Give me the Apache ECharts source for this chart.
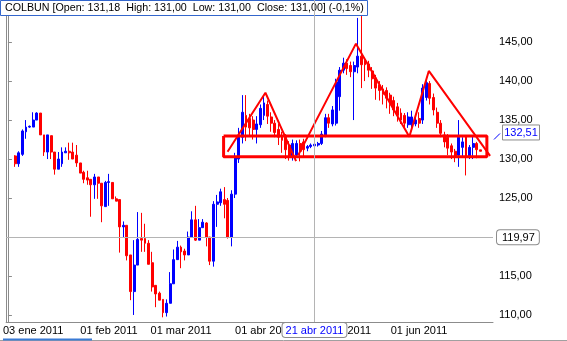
<!DOCTYPE html>
<html><head><meta charset="utf-8">
<script src="https://cdn.jsdelivr.net/npm/echarts@6/dist/echarts.min.js"></script>
<style>html,body{margin:0;padding:0;background:#fff}#c{width:567px;height:341px}</style>
</head><body><div id="c"></div>
<script>
const dates = ['2010-12-23','2010-12-24','2010-12-27','2010-12-28','2010-12-29','2010-12-30','2010-12-31',
'2011-01-03','2011-01-04','2011-01-05','2011-01-06','2011-01-07','2011-01-10','2011-01-11','2011-01-12','2011-01-13','2011-01-14',
'2011-01-17','2011-01-18','2011-01-19','2011-01-20','2011-01-21','2011-01-24','2011-01-25','2011-01-26','2011-01-27','2011-01-28','2011-01-31',
'2011-02-01','2011-02-02','2011-02-03','2011-02-04','2011-02-07','2011-02-08','2011-02-09','2011-02-10','2011-02-11','2011-02-14','2011-02-15',
'2011-02-16','2011-02-17','2011-02-18','2011-02-21','2011-02-22','2011-02-23','2011-02-24','2011-02-25','2011-02-28',
'2011-03-01','2011-03-02','2011-03-03','2011-03-04','2011-03-07','2011-03-08','2011-03-09','2011-03-10','2011-03-11','2011-03-14','2011-03-15',
'2011-03-16','2011-03-17','2011-03-18','2011-03-21','2011-03-22','2011-03-23','2011-03-24','2011-03-25','2011-03-28','2011-03-29','2011-03-30','2011-03-31',
'2011-04-01','2011-04-04','2011-04-05','2011-04-06','2011-04-07','2011-04-08','2011-04-11','2011-04-12','2011-04-13','2011-04-14','2011-04-15',
'2011-04-18','2011-04-19','2011-04-20','2011-04-21','2011-04-22','2011-04-25','2011-04-26','2011-04-27','2011-04-28','2011-04-29',
'2011-05-02','2011-05-03','2011-05-04','2011-05-05','2011-05-06','2011-05-09','2011-05-10','2011-05-11','2011-05-12','2011-05-13',
'2011-05-16','2011-05-17','2011-05-18','2011-05-19','2011-05-20','2011-05-23','2011-05-24','2011-05-25','2011-05-26','2011-05-27','2011-05-30','2011-05-31',
'2011-06-01','2011-06-02','2011-06-03','2011-06-06','2011-06-07','2011-06-08','2011-06-09','2011-06-10','2011-06-13','2011-06-14','2011-06-15',
'2011-06-16','2011-06-17','2011-06-20','2011-06-21','2011-06-22','2011-06-23','2011-06-24','2011-06-27','2011-06-28','2011-06-29'];

const opens = [null,null,
130.4,129.4,130.6,133.5,134.1,134.1,135.0,135.9,133.1,130.9,133.0,130.9,128.7,129.4,130.8,131.0,130.9,130.5,129.5,128.3,
127.6,127.4,126.7,127.7,126.9,123.9,127.0,127.0,124.9,124.8,121.3,121.5,117.7,113.0,116.4,119.8,119.8,119.2,116.7,113.8,
112.8,112.0,110.3,111.5,114.0,117.1,118.7,118.2,117.7,120.0,122.2,119.6,121.2,121.8,120.0,116.9,
124.2,124.4,124.8,124.7,120.0,125.5,130.0,132.8,135.6,135.2,135.0,133.8,134.4,135.6,137.0,135.4,134.6,133.8,133.0,132.8,
131.8,130.2,130.5,132.0,132.2,131.4,131.6,131.7,
131.8,132.0,133.0,135.3,134.5,134.6,138.0,141.4,142.3,142.0,141.2,
141.8,143.2,142.6,142.2,141.3,140.4,139.5,139.0,138.8,138.2,137.5,136.7,135.9,135.6,134.4,134.4,134.5,135.2,135.0,137.9,
139.7,137.9,136.0,134.6,133.1,132.8,131.7,131.0,130.5,131.5,132.9,130.3,131.5,132.0,131.18,
null,null,null];

const closes = [null,null,
129.4,130.8,133.6,134.1,134.2,135.0,135.9,133.1,130.9,133.1,130.9,128.7,130.0,130.9,131.0,130.8,130.0,129.5,128.2,127.4,
127.3,126.7,127.7,126.9,124.0,127.0,127.1,124.9,124.6,121.3,121.5,117.6,113.0,116.4,119.7,119.6,119.2,116.5,113.6,112.7,
111.9,110.3,111.5,114.0,117.1,118.7,118.1,117.7,120.0,122.2,119.6,121.2,121.9,120.0,116.9,124.2,
124.5,125.8,124.2,120.0,125.5,130.3,133.0,136.0,134.1,134.0,133.8,134.5,136.5,137.2,135.5,134.6,133.4,132.8,132.4,131.2,
130.2,132.0,132.0,131.0,131.2,131.6,131.8,131.9,
132.0,133.2,135.3,134.6,136.3,139.9,141.4,142.3,141.6,141.2,142.0,
143.2,142.1,142.1,141.4,140.3,139.1,138.8,138.3,137.8,137.0,136.3,135.6,135.0,134.6,135.4,135.4,135.0,134.6,139.1,139.8,
137.8,136.3,134.6,133.3,132.2,131.4,130.9,130.4,132.8,132.2,130.3,131.5,132.0,131.2,131.0,
null,null,null];

const lows = [null,null,
129.0,129.0,130.4,132.6,134.0,134.1,135.0,133.1,130.4,130.0,130.0,128.0,128.7,129.0,130.8,129.9,130.0,129.0,128.2,126.9,
126.7,122.6,124.9,124.9,121.9,123.9,124.0,124.9,124.6,118.0,120.0,117.0,111.9,110.0,116.4,118.1,118.1,116.5,113.0,111.0,
111.9,109.7,109.8,111.5,114.0,117.1,116.0,117.0,117.7,120.0,119.5,119.6,121.2,118.8,116.4,116.2,
121.3,124.0,122.4,119.8,118.8,125.0,129.5,132.0,132.3,133.0,132.5,132.0,134.0,135.0,134.5,133.5,132.8,131.8,130.8,130.0,
129.8,129.8,130.3,129.7,130.2,131.0,131.4,131.5,
131.6,131.8,132.8,134.0,134.2,134.3,136.2,141.0,140.8,140.5,135.0,
141.0,139.1,140.0,140.5,139.0,137.6,137.5,137.0,136.5,135.8,135.5,134.8,134.5,134.0,134.0,134.0,134.2,134.0,134.5,137.5,
137.0,135.6,134.0,132.8,131.5,130.5,130.0,129.6,129.0,130.2,127.9,130.0,130.0,130.1,131.0,
null,null,null];

const highs = [null,null,
130.5,131.0,133.8,135.0,134.3,136.0,136.0,135.9,133.1,133.1,133.0,130.9,130.9,131.5,131.5,132.1,132.1,131.8,129.5,128.5,
128.5,127.4,128.1,127.7,126.9,127.2,128.1,127.0,125.2,124.8,122.0,121.5,117.7,119.6,123.2,123.1,121.7,119.6,118.1,113.8,
113.0,112.0,112.0,115.5,118.4,119.5,118.9,118.5,120.7,123.3,124.0,122.3,122.3,121.9,120.0,124.6,
125.4,126.2,126.4,125.0,126.0,130.8,134.0,138.2,138.2,135.8,135.5,135.5,137.0,138.0,137.5,136.0,135.0,134.5,133.5,133.2,
132.3,132.5,132.4,132.5,132.6,131.8,132.0,132.1,
132.2,133.6,135.8,135.8,136.8,140.3,141.8,143.0,142.8,142.5,142.5,
148.1,148.7,143.0,142.6,141.8,140.8,140.0,139.5,139.2,138.5,138.0,137.2,136.5,135.9,136.0,136.2,135.8,136.0,139.6,140.3,
140.0,138.4,136.6,135.0,133.5,133.2,132.0,131.3,135.0,132.8,133.0,131.8,132.9,132.2,131.18,
null,null,null];

const yTicks = [110,115,120,125,130,135,140,145];
const yTickLabels = ['110,00','115,00','120,00','125,00','130,00','135,00','140,00','145,00'];
const xTickDates = ['2011-01-03','2011-02-01','2011-03-01','2011-04-01','2011-05-02','2011-06-01'];
const xTickLabels = ['03 ene 2011','01 feb 2011','01 mar 2011','01 abr 2011','02 may 2011','01 jun 2011'];
const titleText = 'COLBUN [Open: 131,18  High: 131,00  Low: 131,00  Close: 131,00] (-0,1%)';
const lastPrice = 132.51, lastPriceLabel = '132,51';
const crossIndex = 85, crossDateLabel = '21 abr 2011';
const crossValue = 119.97, crossValueLabel = '119,97';
// hand-drawn annotations: [category position, price]
const shoulderLine = [[60.9,130.94],[71.4,138.5],[79.9,129.74]];
const headLine = [[80.5,130.5],[96.5,144.8],[111.3,132.86],[116.7,141.3],[133.7,130.4]];
const boxLine = [[59.8,132.95],[132.8,132.95],[132.8,130.3],[59.8,130.3],[59.8,132.95]];

const candleData = dates.map((d,i) => opens[i]==null ? '-' : [opens[i],closes[i],lows[i],highs[i]]);
const FONT = 'Liberation Sans';
const gray = '#8c8c8c';

const chart = echarts.init(document.getElementById('c'), null, {renderer:'canvas'});
const annot = (data, w) => ({type:'line', xAxisIndex:1, yAxisIndex:0, data, showSymbol:false, symbol:'none',
  silent:true, z:5, lineStyle:{color:'#ff0000', width:w}, animation:false});
chart.setOption({
  animation:false,
  backgroundColor:'#ffffff',
  title:{text:titleText, left:0, top:0, padding:[3,4,2,5], borderColor:'#3366cc', borderWidth:1, backgroundColor:'#fff',
    textStyle:{fontFamily:FONT, fontSize:10.7, fontWeight:'normal', color:'#000'}},
  grid:{left:3, right:74, top:0, bottom:19},
  xAxis:[{type:'category', data:dates, boundaryGap:true,
    axisLine:{lineStyle:{color:gray}},
    axisTick:{inside:true, length:4, alignWithLabel:true, lineStyle:{color:gray},
      interval:(i,v)=>xTickDates.includes(v)},
    axisLabel:{interval:(i,v)=>xTickDates.includes(v), formatter:v=>xTickLabels[xTickDates.indexOf(v)],
      color:'#000', fontFamily:FONT, fontSize:11, margin:3},
    splitLine:{show:false},
    axisPointer:{show:true, status:'show', value:crossIndex, type:'line', triggerTooltip:false,
      lineStyle:{color:'#b4b4b4', width:1, type:'solid'},
      label:{show:true, formatter:()=>crossDateLabel, color:'#0000ff', backgroundColor:'#fff', borderColor:gray,
        borderWidth:1, padding:[2,3,1,3], fontFamily:FONT, fontSize:11, margin:1}}},
   {type:'value', min:-0.5, max:134.5, show:false}],
  yAxis:[{type:'value', position:'right', min:109.1, max:150.4, scale:true,
    axisLine:{show:true, lineStyle:{color:gray}},
    axisTick:{show:true, length:4, customValues:yTicks, lineStyle:{color:gray}},
    axisLabel:{customValues:yTicks, formatter:v=>yTickLabels[yTicks.indexOf(v)], color:'#000', fontFamily:FONT, fontSize:11, margin:6},
    splitLine:{show:false},
    axisPointer:{show:true, status:'show', value:crossValue, type:'line', triggerTooltip:false,
      lineStyle:{color:'#b4b4b4', width:1, type:'solid'},
      label:{show:true, formatter:()=>crossValueLabel, color:'#000', backgroundColor:'#fff', borderColor:gray,
        borderWidth:1, padding:[2,4,1,5], fontFamily:FONT, fontSize:11, margin:4}}},
   {type:'value', position:'left', min:109.1, max:150.4, scale:true,
    axisLine:{show:true, lineStyle:{color:gray}}, axisTick:{show:false}, axisLabel:{show:false}, splitLine:{show:false}}],
  series:[
    {type:'candlestick', xAxisIndex:0, yAxisIndex:0, data:candleData, barWidth:2.4,
     itemStyle:{color:'#0000ff', color0:'#ff0000', borderColor:'#0000ff', borderColor0:'#ff0000', borderWidth:1}},
    annot(shoulderLine, 2),
    annot(headLine, 2),
    annot(boxLine, 3)
  ]
});
// last-price marker placed through the value axis
const yLast = chart.convertToPixel({yAxisIndex:0}, lastPrice);
chart.setOption({
  graphic:[
    {type:'line', shape:{x1:0, y1:340.5, x2:567, y2:340.5}, style:{stroke:'#a0a0a0', lineWidth:1}, silent:true},
    {type:'line', shape:{x1:3, y1:339.5, x2:92, y2:339.5}, style:{stroke:'#3a7bd5', lineWidth:2}, silent:true},
    {type:'line', shape:{x1:494, y1:yLast, x2:500, y2:yLast-6}, style:{stroke:'#0000ff', lineWidth:1}, silent:true},
    {type:'rect', shape:{x:502.5, y:yLast-14.5, width:37, height:15}, style:{fill:'#fff', stroke:gray, lineWidth:1}, silent:true},
    {type:'text', x:521, y:yLast-6.5, style:{text:lastPriceLabel, fill:'#0000ff', font:'11px "Liberation Sans"',
      align:'center', verticalAlign:'middle'}, silent:true}
  ]
});
</script></body></html>
